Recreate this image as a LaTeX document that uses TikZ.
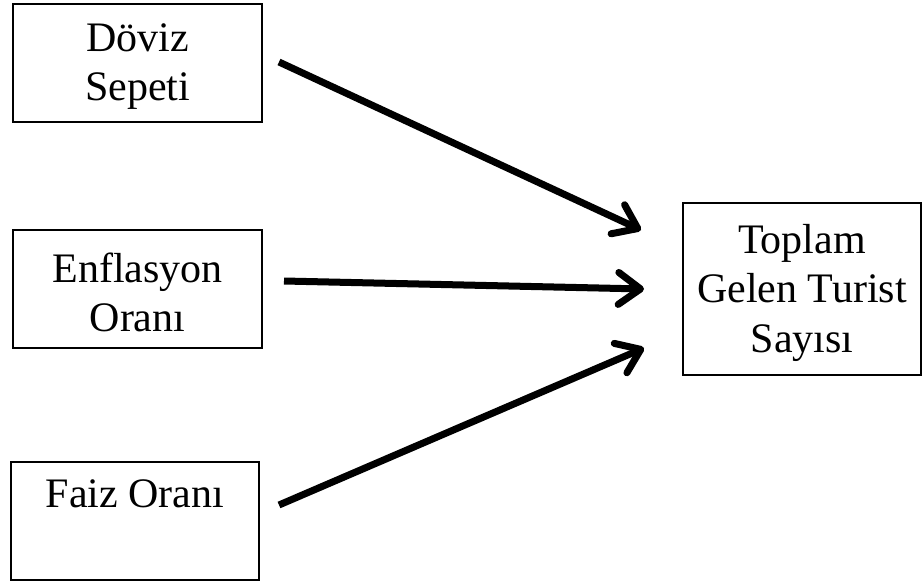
\documentclass[tikz,border=0pt]{standalone}
\usepackage{fontspec}
\setmainfont{Liberation Serif}
\usetikzlibrary{arrows.meta,calc}
\begin{document}
\begin{tikzpicture}[x=1pt,y=-1pt,
  frame/.style={draw,line width=2pt,rectangle,inner sep=0pt},
  txt/.style={inner sep=0pt,align=center,font=\fontsize{42}{49.5}\selectfont},
  link/.style={line width=7pt,
    -{Straight Barb[length=22pt,width=32pt,line cap=round,line join=round]}}]
  \useasboundingbox (0,0) rectangle (923,584);
  % input factors
  \node[frame,minimum width=249pt,minimum height=118pt] (doviz) at (137.5,63) {};
  \node[txt] (doviz-t) at ($(doviz.center)+(0,3.5)$) {Döviz\\Sepeti};
  \node[frame,minimum width=249pt,minimum height=118pt] (enf) at (137.5,289) {};
  \node[txt] (enf-t) at ($(enf.center)+(0,3.5)$) {Enflasyon\\Oranı};
  \node[frame,minimum width=248pt,minimum height=118pt] (faiz) at (135,521) {};
  \node[txt] (faiz-t) at ($(faiz.center)+(0,5)$) {Faiz Oranı\\\strut};
  % outcome
  \node[frame,minimum width=238pt,minimum height=172pt] (top) at (802,289) {};
  \node[txt] (top-t) at ($(top.center)+(0,3.5)$) {Toplam\\Gelen Turist\\Sayısı};
  % connectors
  \draw[link] ($(doviz.east)+(16,-1)$) -- ($(top.west)+(-41,-59)$);
  \draw[link] ($(enf.east)+(21,-8)$) -- ($(top.west)+(-38,0)$);
  \draw[link] ($(faiz.east)+(19,-16)$) -- ($(top.west)+(-38,59)$);
\end{tikzpicture}
\end{document}
